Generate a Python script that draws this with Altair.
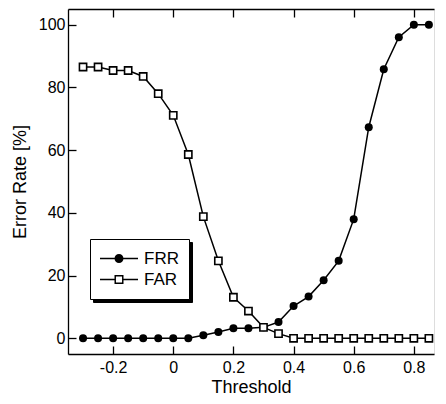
import altair as alt
import pandas as pd

# ---- data ----
thresholds = [-0.3, -0.25, -0.2, -0.15, -0.1, -0.05, 0.0, 0.05, 0.1, 0.15, 0.2, 0.25,
              0.3, 0.35, 0.4, 0.45, 0.5, 0.55, 0.6, 0.65, 0.7, 0.75, 0.8, 0.85]
frr = [0, 0, 0, 0, 0, 0, 0, 0, 1.0, 2.0, 3.2, 3.2,
       3.5, 5.2, 10.3, 13.3, 18.5, 24.7, 38.0, 67.3, 85.8, 96.0, 100, 100]
far = [86.5, 86.5, 85.4, 85.4, 83.5, 78.0, 71.1, 58.6, 38.8, 24.7, 13.1, 8.7,
       3.5, 1.5, 0, 0, 0, 0, 0, 0, 0, 0, 0, 0]
series_names = ["FRR", "FAR"]
shadow_names = ["s1", "s2"]
x_ticks = [-0.2, 0, 0.2, 0.4, 0.6, 0.8]
y_ticks = [0, 20, 40, 60, 80, 100]
x_title = "Threshold"
y_title = "Error Rate [%]"

rows = []
for t, v in zip(thresholds, frr):
    rows.append({"threshold": t, "value": v, "series": "FRR", "shadow": "s1"})
for t, v in zip(thresholds, far):
    rows.append({"threshold": t, "value": v, "series": "FAR", "shadow": "s2"})
df = pd.DataFrame(rows)

W, H = 366, 345
FONT = "Liberation Sans"

xs = alt.Scale(domain=[-0.35, 0.867], nice=False, zero=False)
ys = alt.Scale(domain=[-5, 105], nice=False, zero=False)

# legend symbols: line + marker (custom paths)
FRR_PATH = ("M-1,-0.04H-0.2V0.04H-1Z M0.2,-0.04H1V0.04H0.2Z "
            "M-0.237,0A0.237,0.237 0 0,1 0.237,0A0.237,0.237 0 0,1 -0.237,0Z")
FAR_PATH = ("M-1,-0.04H-0.237V0.04H-1Z M0.237,-0.04H1V0.04H0.237Z "
            "M-0.237,-0.237H0.237V0.237H-0.237Z M-0.16,-0.16V0.16H0.16V-0.16Z")

tick_common = dict(labels=False, title=None, grid=False, tickSize=8,
                   tickColor="black", tickWidth=1.3)

# layer 1: lines, labelled axes
lines = alt.Chart(df).mark_line(color="black", strokeWidth=1.5).encode(
    x=alt.X("threshold:Q", scale=xs, axis=alt.Axis(
        orient="bottom", values=x_ticks, labelExpr="'' + datum.value",
        ticks=False, tickSize=0, domain=True, domainColor="black", domainWidth=1.3,
        labelFont=FONT, labelFontSize=16, labelColor="black", labelPadding=5,
        title=x_title, titleFont=FONT, titleFontSize=18, titleFontWeight="normal",
        titleColor="black", titleY=38, titleBaseline="alphabetic", grid=False)),
    y=alt.Y("value:Q", scale=ys, axis=alt.Axis(
        orient="left", values=y_ticks, ticks=False, tickSize=0, domain=True,
        domainColor="black", domainWidth=1.3,
        labelFont=FONT, labelFontSize=16, labelColor="black", labelPadding=3,
        title=y_title, titleFont=FONT, titleFontSize=18, titleFontWeight="normal",
        titleColor="black", titlePadding=9, grid=False)),
    detail="series:N",
)

# layer 2: FRR points, inward ticks on bottom and left
frr_pts = alt.Chart(df).transform_filter("datum.series == 'FRR'").mark_point(
    shape="circle", filled=True, color="black", size=64, opacity=1).encode(
    x=alt.X("threshold:Q", scale=xs, axis=alt.Axis(
        orient="top", offset=-H, values=x_ticks, domain=False, **tick_common)),
    y=alt.Y("value:Q", scale=ys, axis=alt.Axis(
        orient="right", offset=-W, values=y_ticks, domain=False, **tick_common)),
)

# layer 3: FAR points, top frame with inward ticks
far_pts = alt.Chart(df).transform_filter("datum.series == 'FAR'").mark_point(
    shape="square", filled=True, fill="white", stroke="black", strokeWidth=1.6,
    size=52, opacity=1).encode(
    x=alt.X("threshold:Q", scale=xs, axis=alt.Axis(
        orient="bottom", offset=-H, values=x_ticks, domain=True,
        domainColor="black", domainWidth=1.3, **tick_common)),
    y=alt.Y("value:Q", scale=ys, axis=None),
)

legend_common = dict(title=None, orient="none", direction="vertical",
                     symbolStrokeWidth=0, clipHeight=19,
                     labelFont=FONT, labelFontSize=17,
                     padding=10, strokeColor="black", symbolFillColor="black",
                     labelColor="black")

# layer 4: legend only (no marks drawn); second legend acts as drop shadow
legend_layer = alt.Chart(df).transform_filter("datum.value > 1000").mark_point(
    filled=True, color="black", opacity=1).encode(
    x=alt.X("threshold:Q", scale=xs, axis=None),
    y=alt.Y("value:Q", scale=ys, axis=None),
    shape=alt.Shape("series:N", scale=alt.Scale(domain=series_names, range=[FRR_PATH, FAR_PATH]),
                    legend=alt.Legend(legendX=22, legendY=230, zindex=2,
                                      fillColor="white", symbolSize=1444, labelOffset=6,
                                      **legend_common)),
    opacity=alt.Opacity("shadow:N", scale=alt.Scale(domain=shadow_names, range=[1, 1]),
                        legend=alt.Legend(legendX=25, legendY=233, zindex=1,
                                          fillColor="black", symbolSize=6241, labelOffset=0,
                                          labelExpr="''",
                                          **legend_common)),
)

chart = alt.layer(lines, frr_pts, far_pts, legend_layer).resolve_axis(
    x="independent", y="independent"
).properties(
    width=W, height=H,
    padding={"left": 3, "top": 0, "right": 0, "bottom": 0},
).configure_view(stroke=None).configure(font=FONT)

chart.save("out.html", embed_options={"renderer": "svg", "actions": False})
